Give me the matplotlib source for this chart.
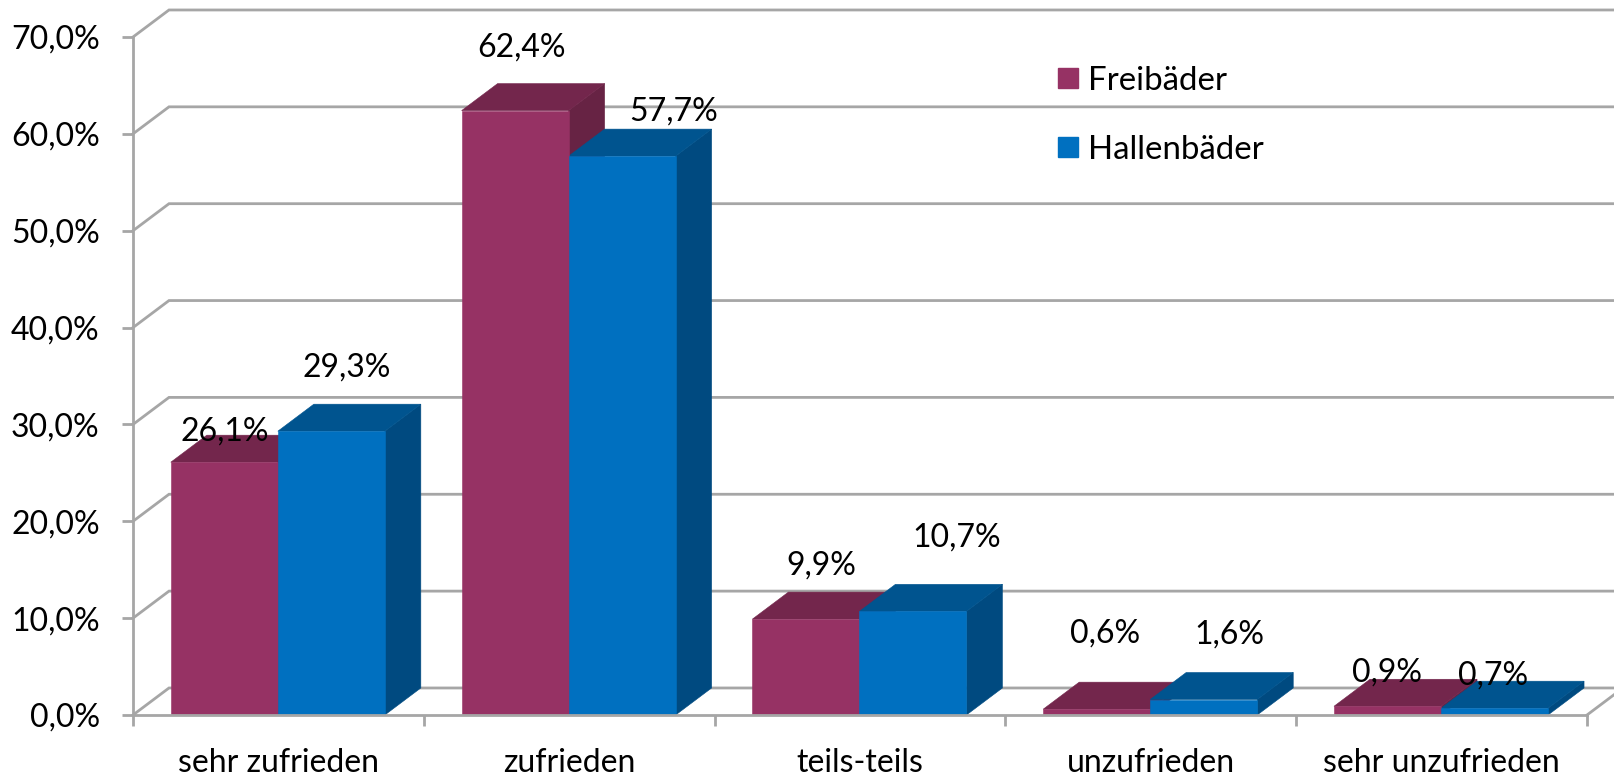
import matplotlib
matplotlib.use("Agg")
import matplotlib.pyplot as plt
from matplotlib.lines import Line2D
import numpy as np

plt.rcParams['font.family'] = ['Lato', 'DejaVu Sans']

categories = ["sehr zufrieden", "zufrieden", "teils-teils", "unzufrieden", "sehr unzufrieden"]
freibaeder = [26.1, 62.4, 9.9, 0.6, 0.9]
hallenbaeder = [29.3, 57.7, 10.7, 1.6, 0.7]
y_ticks = [0, 10, 20, 30, 40, 50, 60, 70]

# label offsets from the bar top centre, in pixels (placed by hand in the original)
freibaeder_offsets = [(0, 31), (6, 63), (15, 54), (8, 76), (-1, 34)]
hallenbaeder_offsets = [(15, 64), (52, 45), (44, 74), (26, 65), (-1, 33)]

GRID = '#A6A6A6'
FONT = 23
DX = 0.1238  # depth of the fake 3d, in category units
DY = 2.79    # same in percent
BAR_W = 0.368
GAP = 0.13


def pct(v):
    return f"{v:.1f}%".replace('.', ',')


def bar3d(ax, x, values, front, top, side, offsets):
    ax.bar(x, values, BAR_W, align='edge', color=front, edgecolor=front, lw=0.4, zorder=3)
    for xi, v, off in zip(x, values, offsets):
        ax.fill([xi, xi + BAR_W, xi + BAR_W + DX, xi + DX], [v, v, v + DY, v + DY],
                fc=top, ec=top, lw=0.4, zorder=2.95, clip_on=False)
        ax.fill([xi + BAR_W, xi + BAR_W + DX, xi + BAR_W + DX, xi + BAR_W], [0, DY, v + DY, v],
                fc=side, ec=side, lw=0.4, zorder=2.9, clip_on=False)
        px = ax.transData.transform((xi + BAR_W / 2, v))
        ax.text(px[0] + off[0], px[1] + off[1], pct(v), transform=None,
                ha='center', va='center', fontsize=FONT, color='black', zorder=5)


fig = plt.figure(figsize=(16.15, 7.77), dpi=100)
ax = fig.add_axes([133 / 1615, 62 / 777, 1454 / 1615, 678 / 777])
ax.set_xlim(0, 5)
ax.set_ylim(0, 70)

# back wall lines and the slants joining them to the axis
for y in y_ticks:
    ax.plot([0, DX, 5.2], [y, y + DY, y + DY], color=GRID, lw=2, clip_on=False, zorder=1,
            solid_joinstyle='miter')
ax.plot([5, 5 + DX], [0, DY], color=GRID, lw=2, clip_on=False, zorder=1)

pos = np.arange(len(categories)) + GAP
bar3d(ax, pos, freibaeder, '#963264', '#73264C', '#672344', freibaeder_offsets)
bar3d(ax, pos + BAR_W, hallenbaeder, '#0070C0', '#00548F', '#004A80', hallenbaeder_offsets)

for s in ['top', 'right']:
    ax.spines[s].set_visible(False)
for s in ['left', 'bottom']:
    ax.spines[s].set_color(GRID)
    ax.spines[s].set_linewidth(2)
    ax.spines[s].set_zorder(4)

ax.set_yticks(y_ticks)
ax.set_yticklabels([pct(y) for y in y_ticks], fontsize=FONT)
ax.tick_params(axis='y', length=8, width=2, color=GRID, pad=16)
ax.set_xticks(range(len(categories) + 1))
ax.set_xticklabels([])
ax.set_xticks(np.arange(len(categories)) + 0.5, minor=True)
ax.set_xticklabels(categories, minor=True, fontsize=FONT)
ax.tick_params(axis='x', which='major', length=8, width=2, color=GRID)
ax.tick_params(axis='x', which='minor', length=0, pad=24)

handles = [Line2D([], [], ls='none', marker='s', ms=14, color='#963264'),
           Line2D([], [], ls='none', marker='s', ms=14, color='#0070C0')]
fig.legend(handles, ['Freibäder', 'Hallenbäder'], loc='upper left',
           bbox_to_anchor=(1055 / 1615, 1 - 66 / 777), frameon=False, fontsize=23.8,
           labelspacing=1.18, handlelength=0.8, handletextpad=0.2,
           borderpad=0, borderaxespad=0)

fig.savefig('out.png', dpi=100)
